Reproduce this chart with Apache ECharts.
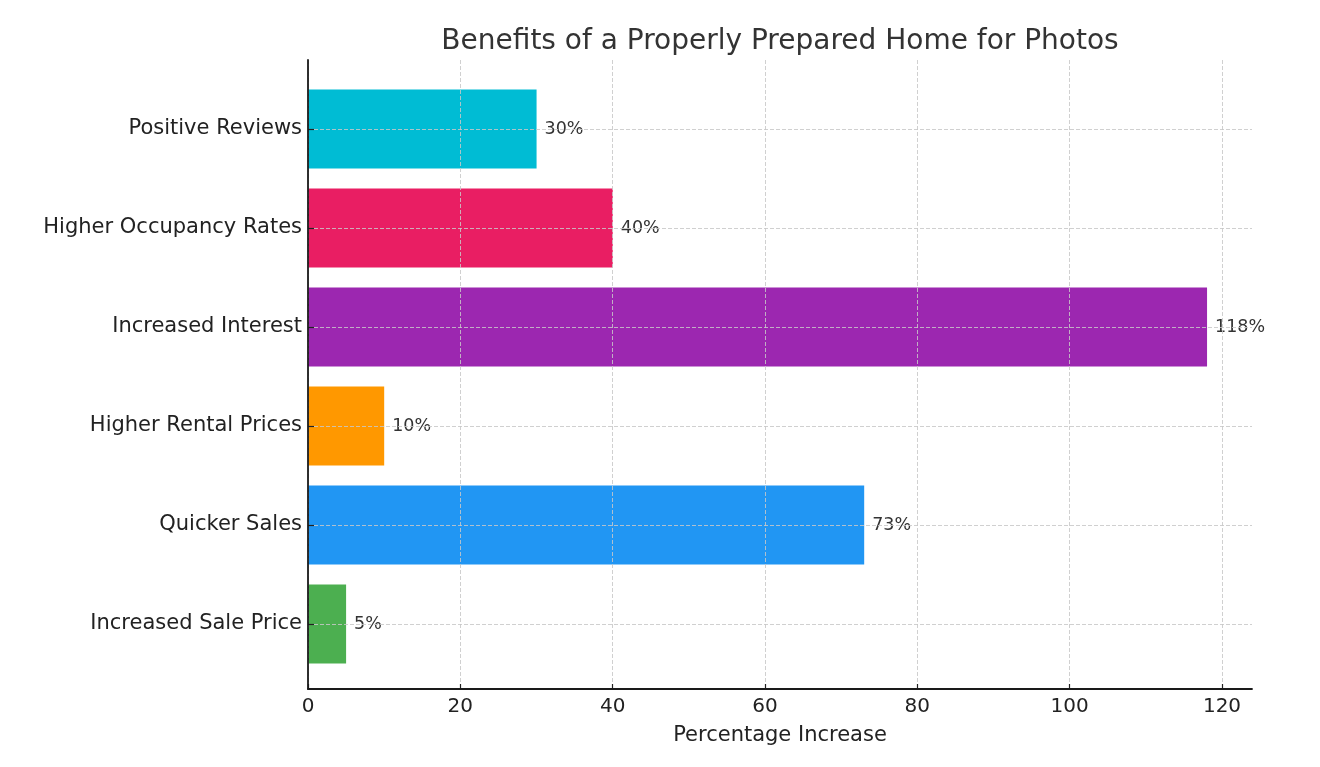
<!DOCTYPE html>
<html>
<head>
<meta charset="utf-8">
<title>Benefits of a Properly Prepared Home for Photos</title>
<script src="https://cdn.jsdelivr.net/npm/echarts@6/dist/echarts.min.js"></script>
<style>
    html, body { margin: 0; padding: 0; background: #fff; }
    #chart { width: 1320px; height: 767px; }
</style>
</head>
<body>
<div id="chart"></div>
<script>
// 分类（自下而上）
var categories = [
    'Increased Sale Price',
    'Quicker Sales',
    'Higher Rental Prices',
    'Increased Interest',
    'Higher Occupancy Rates',
    'Positive Reviews'
];
// 百分比增长
var percentIncrease = [5, 73, 10, 118, 40, 30];
// x 轴刻度
var xTickStep = 20;
var xTickMax = 120;
// 每根柱子的颜色
var barColors = ['#4CAF50', '#2196F3', '#FF9800', '#9C27B0', '#E91E63', '#00BCD4'];

var FONT = 'DejaVu Sans';
var axisMax = 123.9; // 118 * 1.05
var spineStyle = { color: '#1a1a1a', width: 1.8 };
var gridLineStyle = { color: 'rgba(200,200,200,0.85)', width: 1, type: [4, 2] };

function initChart() {
    var myChart = echarts.init(document.getElementById('chart'));

    var option = {
        backgroundColor: '#fff',
        animation: false,
        title: {
            text: 'Benefits of a Properly Prepared Home for Photos',
            left: 780,
            top: 28,
            padding: 0,
            textAlign: 'center',
            textStyle: { fontFamily: FONT, fontSize: 28, fontWeight: 'normal', color: '#333' }
        },
        grid: [
            // 外框（左、下坐标轴线）
            { left: 308, right: 68, top: 60, bottom: 78 },
            // 刻度和竖直网格线
            { left: 308, width: 914, top: 60, bottom: 78 },
            // 柱子
            { left: 308, right: 68, top: 79.5, height: 594 }
        ],
        xAxis: [
            {
                gridIndex: 0, type: 'value', min: 0, max: axisMax, z: 4,
                axisLine: { show: true, onZero: false, lineStyle: spineStyle },
                axisTick: { show: false }, axisLabel: { show: false }, splitLine: { show: false },
                name: 'Percentage Increase', nameLocation: 'middle', nameGap: 36,
                nameTextStyle: { fontFamily: FONT, fontSize: 21, color: '#222' }
            },
            {
                gridIndex: 1, type: 'value', min: 0, max: xTickMax, interval: xTickStep, z: 3,
                axisLine: { show: false },
                axisTick: { show: true, inside: true, length: 5, lineStyle: { color: '#222', width: 1.2 } },
                axisLabel: { margin: 8, fontFamily: FONT, fontSize: 20, color: '#222' },
                splitLine: { show: true, lineStyle: gridLineStyle }
            },
            { gridIndex: 2, type: 'value', min: 0, max: axisMax, show: false }
        ],
        yAxis: [
            {
                gridIndex: 0, type: 'value', min: 0, max: 1, z: 4,
                axisLine: { show: true, onZero: false, lineStyle: spineStyle },
                axisTick: { show: false }, axisLabel: { show: false }, splitLine: { show: false }
            },
            { gridIndex: 1, type: 'value', show: false },
            {
                gridIndex: 2, type: 'category', data: categories, z: 3,
                axisLine: { show: false },
                axisTick: { show: true, inside: true, alignWithLabel: true, length: 6, lineStyle: { color: '#222', width: 1.2 } },
                axisLabel: { margin: 6, fontFamily: FONT, fontSize: 21, color: '#222' },
                splitLine: { show: true, alignWithLabel: true, lineStyle: gridLineStyle }
            }
        ],
        series: [
            {
                type: 'bar',
                xAxisIndex: 2,
                yAxisIndex: 2,
                barWidth: 79,
                z: 2,
                data: percentIncrease.map(function (v, i) {
                    return { value: v, itemStyle: { color: barColors[i] } };
                }),
                label: {
                    show: true,
                    position: 'right',
                    distance: 8,
                    formatter: '{c}%',
                    fontFamily: FONT,
                    fontSize: 17.5,
                    color: '#333'
                }
            }
        ]
    };

    myChart.setOption(option);
}

window.addEventListener('load', initChart);
</script>
</body>
</html>
